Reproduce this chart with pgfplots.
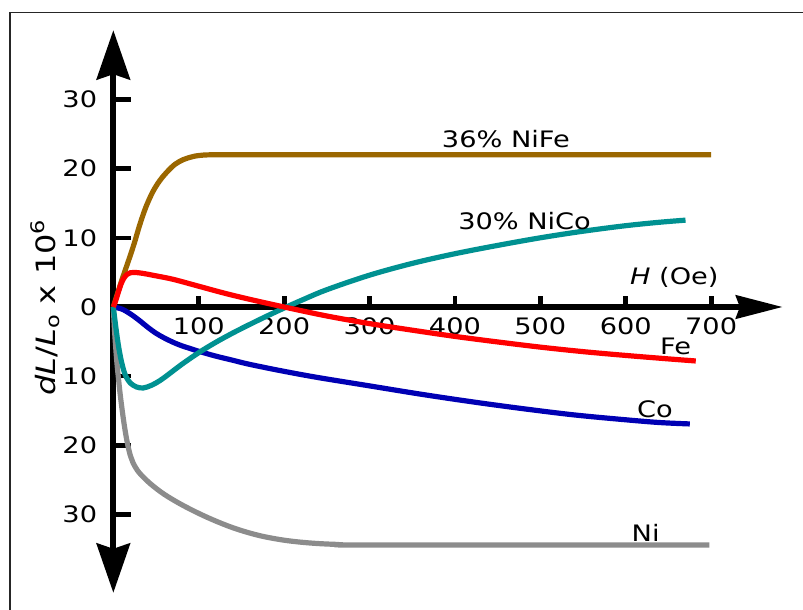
\documentclass[border=0pt]{standalone}
\usepackage{fontspec}
\setmainfont[FakeStretch=1.2]{DejaVu Sans}
\usepackage{pgfplots}
\pgfplotsset{compat=1.18}
\usetikzlibrary{arrows.meta}
\definecolor{nife}{RGB}{155,103,0}
\definecolor{nico}{RGB}{0,145,145}
\definecolor{co}{RGB}{0,0,180}
\definecolor{ni}{RGB}{140,140,140}
\definecolor{fe}{RGB}{255,0,0}

\begin{document}
\begin{tikzpicture}[font=\fontsize{17}{20}\selectfont]
\useasboundingbox (0,0) rectangle (602.25pt,457.5pt);
\draw[line width=0.9pt, black!85] (7.5pt,-2pt) -- (7.5pt,448.3pt) -- (606pt,448.3pt);
\begin{axis}[
  anchor=origin, at={(85pt,227.25pt)},
  x=0.6405pt, y=5.19pt,
  xmin=0, xmax=783.6, ymin=-41.3, ymax=40,
  axis lines=middle,
  clip=false,
  hide obscured x ticks=false,
  hide obscured y ticks=false,
  x axis line style={line width=3.8pt, -{Stealth[length=35pt,width=17.5pt,inset=3pt]}},
  y axis line style={line width=4.3pt,
     {Stealth[length=37pt,width=25pt,inset=4pt]}-{Stealth[length=37pt,width=25pt,inset=4pt]}},
  xtick={100,200,...,700},
  xticklabels={100,200,300,400,500,600,700},
  ytick={-30,-20,...,30},
  yticklabels={30,20,10,0,10,20,30},
  major tick length=0pt,
  tick style={draw=none},
  xticklabel style={anchor=north, inner sep=0pt, yshift=-7.5pt},
  yticklabel style={anchor=east, inner sep=0pt, xshift=-12pt},
  every axis plot/.append style={line width=3.9pt, smooth, tension=0.55},
]
% tick marks pointing into the first quadrant
\pgfplotsinvokeforeach{100,200,...,700}{\draw[line width=3.6pt] (axis cs:#1,0) -- ++(0pt,8.5pt);}
\pgfplotsinvokeforeach{-30,-20,-10,10,20,30}{\draw[line width=3.2pt] (axis cs:0,#1) -- ++(13.5pt,0pt);}

% Ni
\addplot[ni] coordinates {(0,0)(1,-2.5)(2,-4.5)(4,-7.8)(6,-10.3)(8,-12.6)(11,-15.5)(14,-18)(17,-20)(20,-21.5)(23,-22.5)(30,-23.9)(43,-25.5)(60,-27.1)(82,-28.7)(110,-30.4)(140,-31.9)(170,-33.0)(200,-33.7)(230,-34.1)(260,-34.3)(300,-34.4)(698,-34.4)};
% 36% NiFe
\addplot[nife] coordinates {(0,0)(5,2)(10,3.9)(15,5.7)(20,7.5)(25,9.4)(31,11.9)(38,14.4)(46,16.6)(54,18.2)(62,19.4)(72,20.6)(82,21.3)(92,21.7)(101,21.9)(120,22.0)(200,22.0)(700,22.0)};
% Co
\addplot[co] coordinates {(0,0)(10,-0.3)(20,-1.0)(30,-1.9)(40,-2.9)(50,-3.8)(60,-4.5)(70,-5.1)(80,-5.6)(90,-6.0)(100,-6.4)(120,-7.1)(140,-7.7)(160,-8.3)(200,-9.3)(240,-10.2)(300,-11.4)(360,-12.6)(420,-13.7)(480,-14.7)(540,-15.6)(600,-16.3)(640,-16.7)(675,-16.9)};
% 30% NiCo
\addplot[nico] coordinates {(0,0)(3,-3)(6,-5.6)(9,-7.6)(12,-9.1)(15,-10.1)(20,-11.0)(27,-11.55)(35,-11.7)(45,-11.3)(55,-10.6)(65,-9.7)(80,-8.3)(100,-6.6)(120,-5.1)(140,-3.75)(160,-2.5)(180,-1.3)(200,-0.15)(220,0.95)(250,2.5)(300,4.6)(350,6.3)(400,7.7)(450,8.9)(500,10.0)(550,10.95)(600,11.75)(640,12.25)(670,12.55)};
% Fe
\addplot[fe] coordinates {(0,0)(3,1.0)(6,2.2)(9,3.3)(12,4.1)(16,4.7)(20,4.95)(25,5.0)(35,4.85)(50,4.5)(70,4.0)(100,3.0)(130,2.0)(160,1.1)(200,0)(250,-1.3)(300,-2.4)(350,-3.35)(400,-4.25)(450,-5.05)(500,-5.8)(550,-6.45)(600,-7.0)(650,-7.5)(682,-7.8)};

\node[anchor=base west, inner sep=0pt] at (axis cs:384.5,23.1) {36\% NiFe};
\node[anchor=base west, inner sep=0pt] at (axis cs:403.6,11.2) {30\% NiCo};
\node[anchor=base west, inner sep=0pt] at (axis cs:604.8,3.3) {\textit{H} (Oe)};
\node[anchor=base west, inner sep=0pt] at (axis cs:640,-6.9) {Fe};
\node[anchor=base west, inner sep=0pt] at (axis cs:613,-15.9) {Co};
\node[anchor=base west, inner sep=0pt] at (axis cs:606.7,-33.9) {Ni};
\end{axis}
\node[rotate=90, anchor=base, inner sep=0pt, font=\fontsize{20}{24}\selectfont] at (41.25pt,227pt)
  {\textit{dL}/\textit{L}\textsubscript{o} x 10\textsuperscript{6}};
\end{tikzpicture}
\end{document}
